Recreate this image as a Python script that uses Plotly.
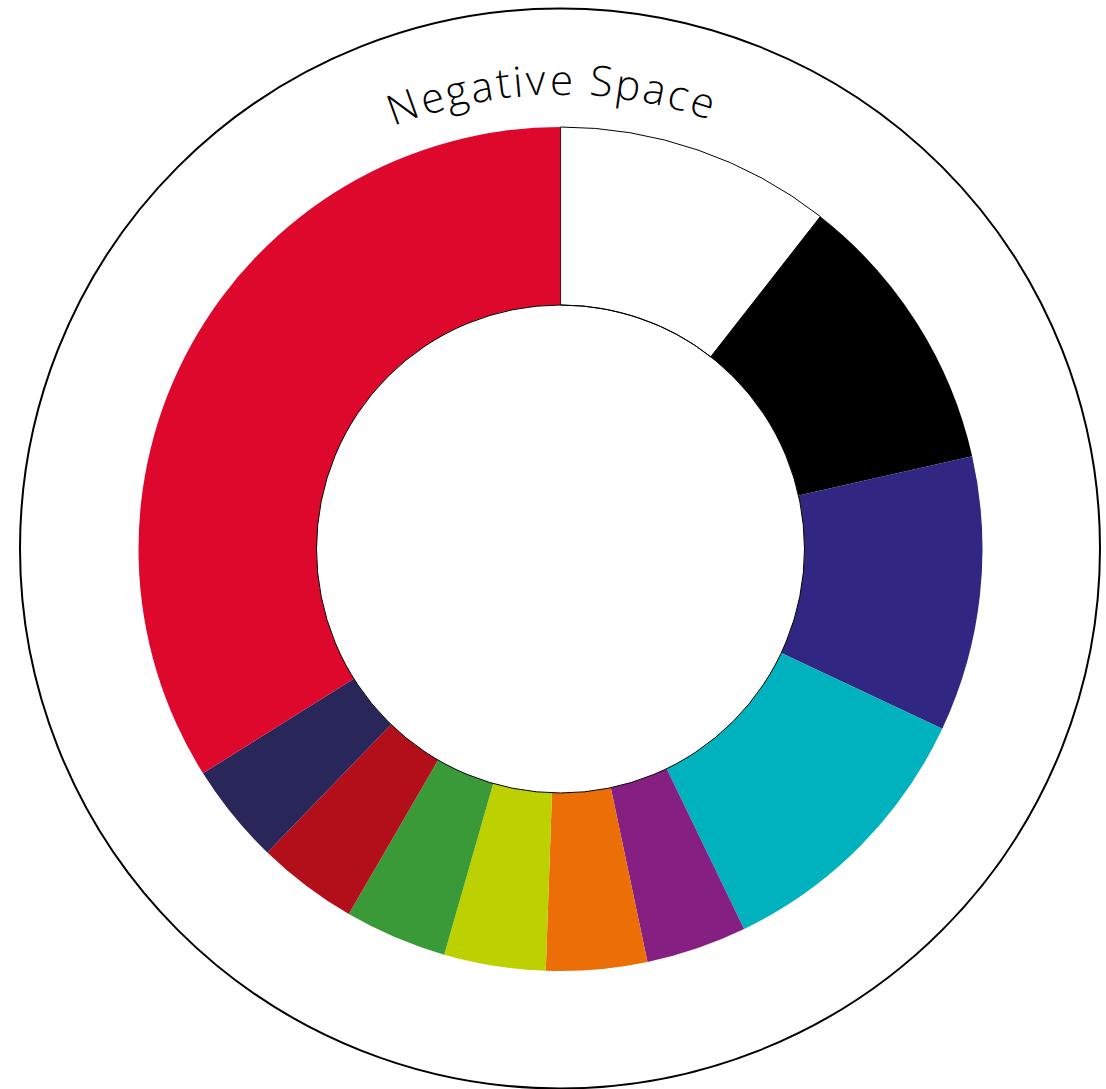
import math
import plotly.graph_objects as go

# ---- data ----
labels = ["Negative Space", "Black", "Indigo", "Teal", "Purple", "Orange",
          "Lime", "Green", "Crimson", "Navy", "Red"]
values = [10.56, 10.92, 10.53, 10.83, 3.86, 3.86, 3.89, 3.92, 3.86, 3.86, 33.92]
colors = ["#FFFFFF", "#000000", "#312783", "#00B2BD", "#851F82", "#EC6E07",
          "#BDD000", "#3A9A37", "#B20F1B", "#29265A", "#DE082D"]
title_text = "Negative Space"

W, H = 1106, 1089
cx, cy = 560.5, 549.0
R_out, R_in = 422.0, 244.0

line_w = [1 if c == "#FFFFFF" else 0 for c in colors]

fig = go.Figure(go.Pie(
    labels=labels, values=values, sort=False, direction="clockwise", rotation=0,
    hole=R_in / R_out,
    marker=dict(colors=colors, line=dict(color="#000000", width=line_w)),
    textinfo="none", hoverinfo="label+percent", showlegend=False,
    domain=dict(x=[(cx - R_out) / W, (cx + R_out) / W],
                y=[1 - (cy + R_out) / H, 1 - (cy - R_out) / H]),
))

# outer thin circle
oc_x, oc_y, oc_r = 560.0, 548.5, 540.0
shapes = [
    dict(type="circle", xref="paper", yref="paper",
         x0=(oc_x - oc_r) / W, x1=(oc_x + oc_r) / W,
         y0=1 - (oc_y + oc_r) / H, y1=1 - (oc_y - oc_r) / H,
         line=dict(color="#000000", width=2), layer="below"),
    dict(type="circle", xref="paper", yref="paper",
         x0=(cx - R_in) / W, x1=(cx + R_in) / W,
         y0=1 - (cy + R_in) / H, y1=1 - (cy - R_in) / H,
         line=dict(color="#000000", width=1), layer="above"),
]

# curved title: characters placed along an arc
fs = 42
adv = {"N": 0.783, "e": 0.562, "g": 0.495, "a": 0.556, "t": 0.344, "i": 0.253,
       "v": 0.489, " ": 0.26, "S": 0.536, "p": 0.613, "c": 0.478}
widths = [adv.get(ch, 0.55) * fs for ch in title_text]
extra = 2.4
widths = [w + extra for w in widths]
total = sum(widths)
r_base = 459.0
r_txt = r_base + 0.28 * fs
center_ang = -1.3
annotations = []
pos = -total / 2
for ch, w in zip(title_text, widths):
    mid = pos + w / 2
    pos += w
    if ch == " ":
        continue
    ang = center_ang + math.degrees(mid / r_base)
    a = math.radians(ang)
    px = cx + r_txt * math.sin(a)
    py = cy - r_txt * math.cos(a)
    annotations.append(dict(
        x=px / W, y=1 - py / H, xref="paper", yref="paper",
        text=ch, showarrow=False, textangle=ang,
        xanchor="center", yanchor="middle",
        font=dict(family="Open Sans, Noto Sans, sans-serif", size=fs, color="#000000", weight=300),
    ))

fig.update_layout(
    width=W, height=H, margin=dict(l=0, r=0, t=0, b=0),
    paper_bgcolor="#FFFFFF", plot_bgcolor="#FFFFFF",
    shapes=shapes, annotations=annotations,
)

fig.write_html("out.html")
